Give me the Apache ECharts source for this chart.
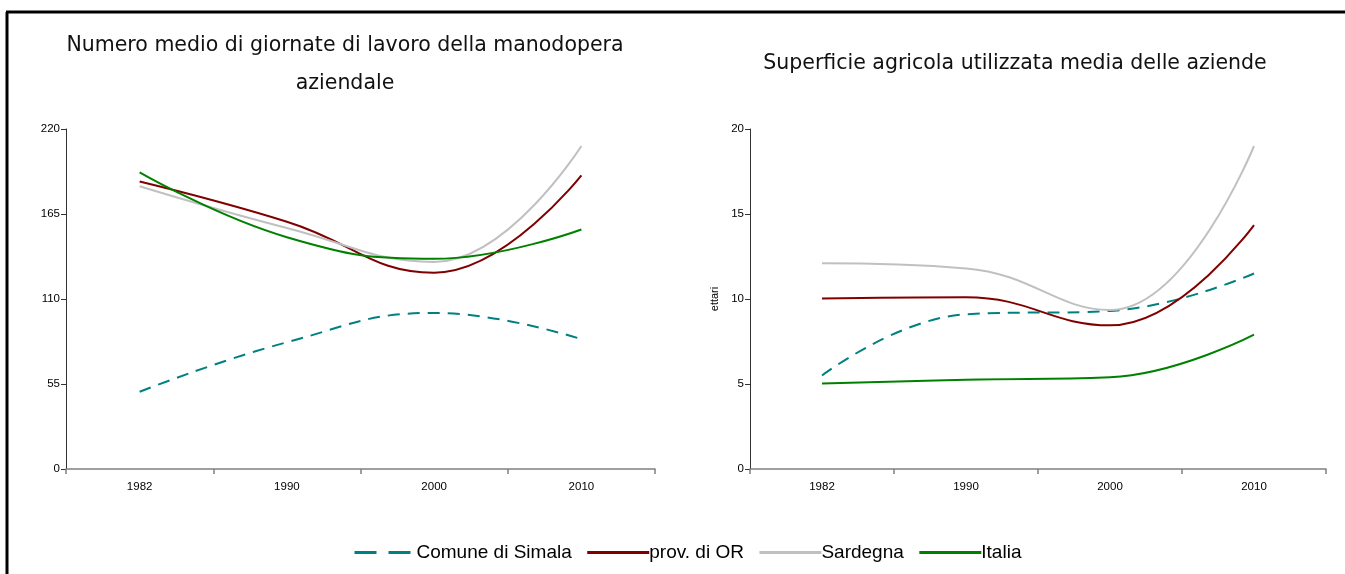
<!DOCTYPE html>
<html>
<head>
<meta charset="utf-8">
<script src="https://cdn.jsdelivr.net/npm/echarts@6/dist/echarts.min.js"></script>
<style>
html,body{margin:0;padding:0;background:#fff;}
#chart{width:1345px;height:574px;}
</style>
</head>
<body>
<div id="chart"></div>
<script>
var categories = ['1982', '1990', '2000', '2010'];
var seriesNames = ['Comune di Simala', 'prov. di OR', 'Sardegna', 'Italia'];

// Left chart: Numero medio di giornate di lavoro della manodopera aziendale
var giornateSimala = [50, 82, 101, 84];
var giornateProv = [186, 160, 127, 190];
var giornateSard = [183, 156, 134, 209];
var giornateItalia = [192, 150, 136, 155];
var giornateTicks = [0, 55, 110, 165, 220];

// Right chart: Superficie agricola utilizzata media delle aziende (ettari)
var sauSimala = [5.5, 9.1, 9.3, 11.5];
var sauProv = [10.03, 10.1, 8.45, 14.35];
var sauSard = [12.1, 11.8, 9.35, 19.0];
var sauItalia = [5.03, 5.25, 5.4, 7.9];
var sauTicks = [0, 5, 10, 15, 20];

var colors = ['#008080', '#800000', '#C0C0C0', '#008000'];

var chart = echarts.init(document.getElementById('chart'));

function mkSeries(name, data, idx, color, dashed) {
  return {
    name: name,
    type: 'line',
    xAxisIndex: idx,
    yAxisIndex: idx,
    data: data,
    smooth: 0.45,
    symbol: 'none',
    lineStyle: { color: color, width: 2, type: dashed ? [12, 8] : 'solid' },
    itemStyle: { color: color },
    emphasis: { disabled: true }
  };
}

function mkX(gridIndex) {
  return {
    type: 'category',
    gridIndex: gridIndex,
    data: categories,
    boundaryGap: true,
    axisLine: { lineStyle: { color: '#808080', width: 1.5 } },
    axisTick: { show: true, length: 5, inside: false, lineStyle: { color: '#808080', width: 1.5 } },
    axisLabel: { color: '#000', fontSize: 11.5, fontFamily: 'Liberation Sans', margin: 12 },
    splitLine: { show: false }
  };
}

function mkY(gridIndex, max, interval, name) {
  return {
    type: 'value',
    gridIndex: gridIndex,
    min: 0,
    max: max,
    interval: interval,
    name: name || '',
    nameLocation: 'middle',
    nameRotate: 90,
    nameGap: 30,
    nameTextStyle: { color: '#000', fontSize: 11, fontFamily: 'Liberation Sans' },
    axisLine: { show: true, lineStyle: { color: '#333', width: 1 } },
    axisTick: { show: true, length: 5, lineStyle: { color: '#333', width: 1 } },
    axisLabel: { color: '#000', fontSize: 11.5, fontFamily: 'Liberation Sans', margin: 6,
      formatter: function (v) { return String(v); } },
    splitLine: { show: false }
  };
}

var titleFont = '20.5px "DejaVu Sans"';

var legendData = seriesNames.map(function (n, i) {
  var d = { name: n };
  if (i === 0) { d.lineStyle = { type: [22, 12], width: 3 }; }
  return d;
});

var option = {
  animation: false,
  backgroundColor: '#fff',
  grid: [
    { left: 66, right: 690, top: 129, bottom: 105 },
    { left: 750, right: 19, top: 129, bottom: 105 }
  ],
  xAxis: [mkX(0), mkX(1)],
  yAxis: [mkY(0, giornateTicks[giornateTicks.length - 1], giornateTicks[1]),
          mkY(1, sauTicks[sauTicks.length - 1], sauTicks[1], 'ettari')],
  legend: {
    data: legendData,
    left: 348,
    top: 538,
    itemWidth: 62,
    itemHeight: 3,
    itemGap: 14,
    itemStyle: { opacity: 0 },
    lineStyle: { width: 3 },
    textStyle: { color: '#000', fontSize: 19, fontFamily: 'Liberation Sans Narrow, Liberation Sans', padding: [0, 0, 0, -5] }
  },
  graphic: [
    { type: 'line', shape: { x1: 7, y1: 12, x2: 7, y2: 574 }, style: { stroke: '#000', lineWidth: 3 } },
    { type: 'line', shape: { x1: 6, y1: 12, x2: 1345, y2: 12 }, style: { stroke: '#000', lineWidth: 3 } },
    { type: 'text', x: 345, y: 46, style: { text: 'Numero medio di giornate di lavoro della manodopera', font: titleFont, fill: '#111', textAlign: 'center', textVerticalAlign: 'middle' } },
    { type: 'text', x: 345, y: 84, style: { text: 'aziendale', font: titleFont, fill: '#111', textAlign: 'center', textVerticalAlign: 'middle' } },
    { type: 'text', x: 1015, y: 64, style: { text: 'Superficie agricola utilizzata media delle aziende', font: titleFont, fill: '#111', textAlign: 'center', textVerticalAlign: 'middle' } }
  ],
  series: [
    mkSeries(seriesNames[0], giornateSimala, 0, colors[0], true),
    mkSeries(seriesNames[1], giornateProv, 0, colors[1], false),
    mkSeries(seriesNames[2], giornateSard, 0, colors[2], false),
    mkSeries(seriesNames[3], giornateItalia, 0, colors[3], false),
    mkSeries(seriesNames[0], sauSimala, 1, colors[0], true),
    mkSeries(seriesNames[1], sauProv, 1, colors[1], false),
    mkSeries(seriesNames[2], sauSard, 1, colors[2], false),
    mkSeries(seriesNames[3], sauItalia, 1, colors[3], false)
  ]
};
chart.setOption(option);
</script>
</body>
</html>
